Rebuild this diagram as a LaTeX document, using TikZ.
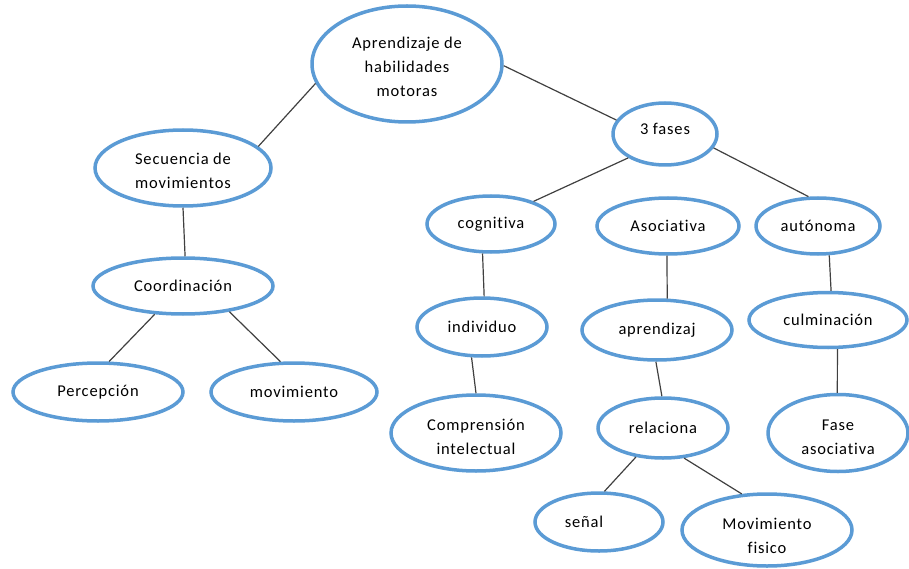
\documentclass[tikz,border=0pt]{standalone}
\usepackage{fontspec}
\setmainfont[LetterSpace=5.0,Ligatures=NoCommon]{Carlito}
\usetikzlibrary{shapes.geometric}
\definecolor{ovalblue}{HTML}{5B9BD5}
\definecolor{linkgray}{HTML}{404040}
\tikzset{
  oval/.style={ellipse, draw=ovalblue, line width=3.5pt, fill=white, inner sep=0pt,
    align=center, font=\fontsize{16.5}{24}\selectfont, text=black},
  link/.style={draw=linkgray, line width=1.2pt}
}
\newcommand{\ov}[5]{\node[oval, minimum width=#3pt, minimum height=#4pt] (#1) at #2 {#5};}
\newcommand{\tp}[1]{\rule{0pt}{#1pt}}
\begin{document}
\begin{tikzpicture}[x=1pt,y=-1pt]
\useasboundingbox (0,0) rectangle (909,569);
\ov{root}{(407,64)}{190}{116}{\tp{18}Aprendizaje de\\habilidades\\motoras}
\ov{sec}{(183,168)}{176}{76}{\tp{18}Secuencia de\\movimientos}
\ov{fases}{(665,134)}{104}{62}{3 fases\rule[-10pt]{0pt}{10pt}}
\ov{cog}{(491,224)}{128}{56}{cognitiva}
\ov{aso}{(668,226)}{142}{56}{Asociativa}
\ov{aut}{(818,226)}{124}{56}{autónoma}
\ov{coord}{(183,286)}{180}{56}{Coordinación}
\ov{perc}{(98,392)}{170}{58}{Percepción}
\ov{mov}{(294,392)}{166}{58}{movimiento}
\ov{ind}{(482,327)}{130}{58}{individuo}
\ov{apr}{(657,330)}{150}{60}{aprendizaj}
\ov{cul}{(828,320)}{158}{55}{culminación}
\ov{comp}{(476,433)}{170}{76}{\tp{20}Comprensión\\intelectual}
\ov{rel}{(663,428)}{130}{60}{relaciona}
\ov{fase}{(838,433)}{140}{77}{\tp{20}Fase\\asociativa}
\ov{sen}{(599,522)}{128}{58}{señal\hspace*{30pt}}
\ov{movf}{(767,530)}{170}{72}{\tp{24}Movimiento\\fisico}

\draw[link] (root.192) -- (sec.16);
\draw[link] (root.-1) -- (fases.164);
\draw[link] (sec.270) -- (coord.86);
\draw[link] (coord.225) -- (perc.70);
\draw[link] (coord.331) -- (mov.114);
\draw[link] (fases.213) -- (cog.28);
\draw[link] (fases.344) -- (aut.108);
\draw[link] (aso.268) -- (apr.72);
\draw[link] (cog.254) -- (ind.86);
\draw[link] (ind.251) -- (comp.90);
\draw[link] (aut.291) -- (cul.84);
\draw[link] (cul.288) -- (fase.91);
\draw[link] (apr.268) -- (rel.92);
\draw[link] (rel.227) -- (sen.80);
\draw[link] (rel.305) -- (movf.125);
\end{tikzpicture}
\end{document}
